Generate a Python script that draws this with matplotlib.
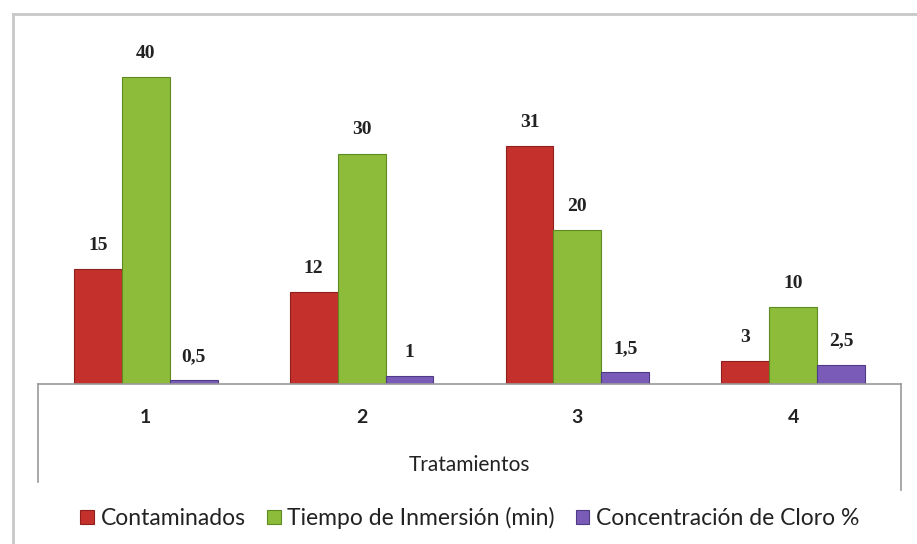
import numpy as np
import matplotlib
matplotlib.use("Agg")
import matplotlib.pyplot as plt
from matplotlib.lines import Line2D

# datos
tratamientos = ["1", "2", "3", "4"]
contaminados = [15, 12, 31, 3]
tiempo = [40, 30, 20, 10]
cloro = [0.5, 1, 1.5, 2.5]
etiquetas = ["Contaminados", "Tiempo de Inmersión (min)", "Concentración de Cloro %"]

colores = ["#C4312C", "#8DBB3A", "#7A5CB8"]
bordes = ["#8E1F1C", "#5E8A22", "#4F3A85"]
fuente = "Lato"

fig = plt.figure(figsize=(9.17, 5.44), dpi=100)
ax = fig.add_axes([38/917, 1-384/544, (901-38)/917, 334/544])

x = np.arange(len(tratamientos))
w = 0.222
series = [contaminados, tiempo, cloro]
for i, (vals, lab) in enumerate(zip(series, etiquetas)):
    barras = ax.bar(x + (i-1)*w, vals, w, color=colores[i], edgecolor=bordes[i],
                    linewidth=0.8, label=lab)
    textos = [str(v).replace(".", ",") for v in vals]
    ax.bar_label(barras, labels=textos, padding=11, fontsize=14, fontweight="bold",
                 family="Liberation Serif", color="#222222")

ax.set_xlim(-0.5, 3.5)
ax.set_ylim(0, 43.5)
ax.set_yticks([])
ax.set_xticks(x)
ax.set_xticklabels(tratamientos, fontsize=14, fontweight="bold", family=fuente,
                   color="#222222")
ax.tick_params(axis="x", length=0, pad=18)
for s in ["top", "left", "right"]:
    ax.spines[s].set_visible(False)
ax.spines["bottom"].set_color("#9A9A9A")
ax.spines["bottom"].set_linewidth(1.2)
ax.set_xlabel("Tratamientos", fontsize=15, family=fuente,
              color="#222222", labelpad=21)

# caja del eje de categorias y marco exterior
fig.add_artist(Line2D([38/917, 38/917], [1-384/544, 1-482/544], color="#9A9A9A", lw=1.2))
fig.add_artist(Line2D([901/917, 901/917], [1-384/544, 1-490/544], color="#9A9A9A", lw=1.2))
fig.add_artist(Line2D([13/917, 13/917], [1-14/544, 0], color="#C8C8C8", lw=2))
fig.add_artist(Line2D([13/917, 1], [1-14/544, 1-14/544], color="#C8C8C8", lw=2))

fig.legend(loc="center", bbox_to_anchor=(470/917, 1-518/544), ncol=3, frameon=False,
           prop={"family": fuente, "size": 16.5},
           handlelength=0.6, handleheight=0.6, handletextpad=0.3, columnspacing=0.9,
           labelcolor="#222222")

fig.savefig("out.png", dpi=100)
